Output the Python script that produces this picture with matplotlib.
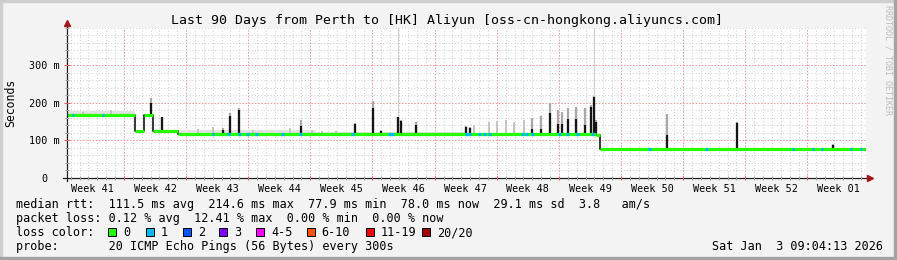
import numpy as np
import matplotlib
matplotlib.use("Agg")
import matplotlib.pyplot as plt
from matplotlib.patches import Rectangle
from datetime import datetime, timedelta

# ---------------- data ----------------
start_time = datetime(2025, 10, 5, 9, 4, 13)
span_days = 90.0
first_week_boundary = 6.41          # days after start of first week grid line

# median rtt step levels (ms) : day where a level begins
median_days = [0.0, 7.65, 8.66, 9.67, 12.49, 59.62, 60.04]
median_ms   = [168, 126, 168, 126, 118, 114, 78]

# spikes: day, median peak (ms), smoke top (ms)
spike_days  = [9.51, 10.65, 17.55, 18.34, 19.38, 26.40, 32.40, 34.46, 35.40,
               37.27, 37.57, 39.34, 44.89, 45.34, 52.39, 53.40, 54.45, 55.35,
               55.74, 56.47, 57.37, 58.39, 59.06, 59.34, 59.57, 67.53, 75.52,
               86.26]
spike_ms    = [200, 161, 128, 166, 181, 139, 143, 185, 125,
               161, 151, 140, 135, 133, 130, 131, 172, 143,
               143, 158, 156, 141, 190, 216, 150, 114, 147,
               88]
spike_smoke = [212, 163, 132, 172, 185, 154, 147, 205, 128,
               163, 153, 148, 138, 136, 160, 165, 200, 180,
               175, 185, 190, 185, 195, 218, 155, 169, 150,
               90]

# smoke-only tufts
tuft_days = [16.43, 25.10, 27.60, 28.70, 30.30, 45.90, 47.59, 48.49, 49.50,
             50.40, 51.52, 4.9, 1.8, 14.8, 20.9]
tuft_ms   = [136, 132, 128, 125, 124, 140, 150, 152, 155,
             150, 155, 180, 176, 130, 128]

# very thin tall smoke lines
tall_days = [37.29, 59.40]
tall_ms   = [400, 400]

# smoke bands: (start day, end day, top ms)
band_start = [0.0, 12.49, 28.0]
band_end   = [7.65, 28.0, 45.0]
band_top   = [177, 127, 122]

# loss = 1 sample positions (days)
loss1_days = [0.67, 4.05, 16.43, 18.22, 19.46, 20.36, 21.37, 24.30, 26.33,
              32.17, 36.34, 36.67, 45.0, 45.34, 46.46, 47.03, 47.59, 51.30,
              51.75, 52.42, 55.46, 56.36, 57.48, 59.17, 65.59, 72.0, 81.78,
              84.03, 85.04, 88.31, 89.43]

loss_labels = ["0", "1", "2", "3", "4-5", "6-10", "11-19", "20/20"]
loss_colors = ["#26ff00", "#00b8ff", "#0059ff", "#7e00ff", "#ff00ff",
               "#ff5500", "#ff0000", "#a00000"]

y_ticks = [0, 100, 200, 300]
y_max = 400

title = "Last 90 Days from Perth to [HK] Aliyun [oss-cn-hongkong.aliyuncs.com]"
legend_line1 = "median rtt:  111.5 ms avg  214.6 ms max  77.9 ms min  78.0 ms now  29.1 ms sd  3.8   am/s"
legend_line2 = "packet loss: 0.12 % avg  12.41 % max  0.00 % min  0.00 % now"
probe_line = "probe:       20 ICMP Echo Pings (56 Bytes) every 300s"
date_text = "Sat Jan  3 09:04:13 2026"

# ---------------- figure ----------------
W, H = 897, 260
MONO = "DejaVu Sans Mono"
fig = plt.figure(figsize=(W / 100, H / 100), dpi=100, facecolor="#f3f3f3")

def fx(x):
    return x / W

def fy(y):
    return 1 - y / H

# borders
fig.patches.append(Rectangle((0, fy(2)), 1, 2 / H, transform=fig.transFigure, color="#cfcfcf", zorder=0))
fig.patches.append(Rectangle((0, 0), 2 / W, 1, transform=fig.transFigure, color="#cfcfcf", zorder=0))
fig.patches.append(Rectangle((0, 0), 1, 3 / H, transform=fig.transFigure, color="#a3a3a3", zorder=0))
fig.patches.append(Rectangle((fx(894), 0), 3 / W, 1, transform=fig.transFigure, color="#a3a3a3", zorder=0))

L, R, T, B = 67, 866, 27.5, 178
ax = fig.add_axes([fx(L), fy(B), (R - L) / W, (B - T) / H])
ax.set_facecolor("white")
ax.set_xlim(0, span_days)
ax.set_ylim(0, y_max)
for s in ax.spines.values():
    s.set_visible(False)

# grid
week_lines = [first_week_boundary + 7 * k for k in range(13) if first_week_boundary + 7 * k < span_days]
day_lines = [first_week_boundary - 6 + k for k in range(91)]
day_lines = [d for d in day_lines if 0 < d < span_days and min(abs(d - w) for w in week_lines) > 0.1]
ax.vlines(day_lines, 0, y_max, colors="#d2d2d2", lw=0.75, linestyles=(0, (1, 2)), zorder=0.5)
ax.vlines(week_lines, 0, y_max, colors="#f0a0a0", lw=0.75, linestyles=(0, (1.5, 1.5)), zorder=0.6)
minor_y = [v for v in range(20, y_max + 1, 20) if v % 100 != 0 or v == y_max]
ax.hlines(minor_y, 0, span_days, colors="#d2d2d2", lw=0.75, linestyles=(0, (1, 2)), zorder=0.5)
ax.hlines([v for v in y_ticks if v > 0], 0, span_days, colors="#f0a0a0", lw=0.75, linestyles=(0, (1.5, 1.5)), zorder=0.6)

def level(d):
    i = np.searchsorted(median_days, d, side="right") - 1
    return median_ms[max(i, 0)]

# smoke bands
for s0, s1, top in zip(band_start, band_end, band_top):
    xs = np.array([s0, s1])
    ax.fill_between(xs, [level(s0 + 0.01)] * 2, [top] * 2, color="#e2e2e2", lw=0, zorder=1)

# tall thin smoke
ax.vlines(tall_days, [level(d) for d in tall_days], tall_ms, colors="#c8c8c8", lw=0.6, zorder=1.1)
# tufts
ax.vlines(tuft_days, [level(d) for d in tuft_days], tuft_ms, colors="#c4c4c4", lw=1.4, zorder=1.2)
# spike smoke
ax.vlines(spike_days, [level(d) for d in spike_days], spike_smoke, colors="#a8a8a8", lw=1.6, zorder=1.3)
# spike median excursions
ax.vlines(spike_days, [level(d) for d in spike_days], spike_ms, colors="#151515", lw=1.6, zorder=2)

# median step
step_x = list(median_days) + [span_days]
step_y = list(median_ms) + [median_ms[-1]]
ax.step(step_x, step_y, where="post", color="#151515", lw=1.2, zorder=2.1)
ax.hlines(median_ms, median_days, step_x[1:], colors=loss_colors[0], lw=2.3, zorder=3)

# loss = 1 marks
ax.hlines([level(d) for d in loss1_days], np.array(loss1_days) - 0.15, np.array(loss1_days) + 0.15,
          colors=loss_colors[1], lw=2.3, zorder=4)

# axis lines with arrows
ax.plot([0, 0], [-0.02, 1.025], transform=ax.transAxes, color="#202020", lw=0.9, clip_on=False, zorder=5)
ax.plot([-0.005, 1.004], [0, 0], transform=ax.transAxes, color="#202020", lw=0.9, clip_on=False, zorder=5)
ax.plot([0], [1.03], transform=ax.transAxes, marker="^", ms=4.5, color="#a01818", clip_on=False, zorder=6)
ax.plot([1.0045], [0], transform=ax.transAxes, marker=">", ms=4.5, color="#a01818", clip_on=False, zorder=6)

# small ticks on axes
xt = ax.get_xaxis_transform()
ax.vlines(day_lines, -0.012, 0.012, transform=xt, colors="#a0a0a0", lw=0.75, clip_on=False, zorder=5)
ax.vlines(week_lines, -0.016, 0.016, transform=xt, colors="#e06060", lw=0.75, clip_on=False, zorder=5)
yt = ax.get_yaxis_transform()
ax.hlines(minor_y, -0.003, 0.003, transform=yt, colors="#a0a0a0", lw=0.75, clip_on=False, zorder=5)
ax.hlines(y_ticks[1:], -0.004, 0.004, transform=yt, colors="#e06060", lw=0.75, clip_on=False, zorder=5)

# ticks / labels
label_days = [first_week_boundary - 3.5 + 7 * k for k in range(13)]
week_labels = ["Week %02d" % (start_time + timedelta(days=d)).isocalendar()[1] for d in label_days]
ax.set_xticks(label_days, week_labels)
ax.set_yticks(y_ticks, [("%d m" % v) if v else "0  " for v in y_ticks])
ax.tick_params(axis="both", length=0, labelsize=7.3, labelfontfamily=MONO)
ax.tick_params(axis="x", pad=4.2)
ax.tick_params(axis="y", pad=5)

# texts
fig.text(fx(447), fy(24), title, family=MONO, fontsize=9.55, ha="center", va="baseline")
fig.text(fx(11), fy(103), "Seconds", family=MONO, fontsize=8.3, rotation=90, ha="center", va="center")
fig.text(fx(887.5), fy(5), "RRDTOOL / TOBI OETIKER", family=MONO, fontsize=6, rotation=270,
         ha="center", va="top", color="#bcbcbc")

fig.text(fx(16), fy(208), legend_line1, family=MONO, fontsize=8.5, va="baseline")
fig.text(fx(16), fy(222), legend_line2, family=MONO, fontsize=8.5, va="baseline")
fig.text(fx(16), fy(236), "loss color:", family=MONO, fontsize=8.5, va="baseline")
box_x = [108.3, 145.7, 182.7, 219.3, 256.3, 306.7, 365.7, 422.3]
for bx, lab, col in zip(box_x, loss_labels, loss_colors):
    fig.patches.append(Rectangle((fx(bx), fy(235.5)), 8 / W, 8 / H, transform=fig.transFigure,
                                 facecolor=col, edgecolor="black", lw=0.7))
    fig.text(fx(bx + 15), fy(236), lab, family=MONO, fontsize=8.5, va="baseline")
fig.text(fx(16), fy(250), probe_line, family=MONO, fontsize=8.5, va="baseline")
fig.text(fx(883), fy(250), date_text, family=MONO, fontsize=8.5, va="baseline", ha="right")

fig.savefig("out.png", dpi=100, facecolor=fig.get_facecolor())
